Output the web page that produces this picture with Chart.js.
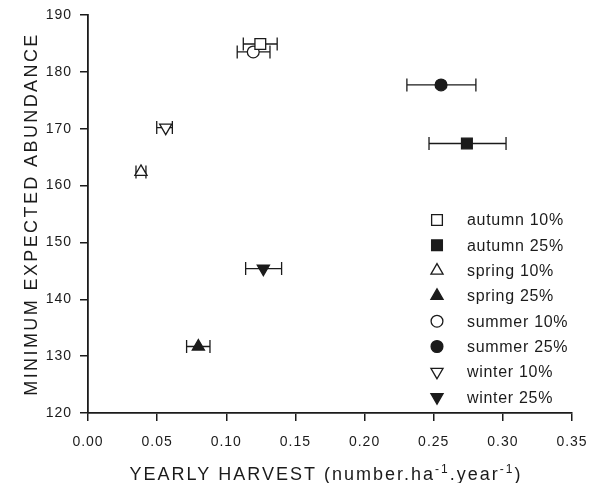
<!DOCTYPE html>
<html>
<head>
<meta charset="utf-8">
<script src="https://cdn.jsdelivr.net/npm/chart.js@4.4.1/dist/chart.umd.min.js"></script>
<style>
  html, body { margin: 0; padding: 0; background: #fff; }
  #wrap { width: 593px; height: 483px; }
</style>
</head>
<body>
<div id="wrap"><canvas id="harvestChart"></canvas></div>
<script>
// scenario labels and values
const scenarios = ['autumn 10%', 'autumn 25%', 'spring 10%', 'spring 25%',
                   'summer 10%', 'summer 25%', 'winter 10%', 'winter 25%'];
const harvest     = [0.1246, 0.2740, 0.0383, 0.0798, 0.1195, 0.2553, 0.0562, 0.1268];
const harvestLow  = [0.1123, 0.2466, 0.0347, 0.0713, 0.1079, 0.2306, 0.0497, 0.1140];
const harvestHigh = [0.1368, 0.3023, 0.0419, 0.0882, 0.1316, 0.2805, 0.0610, 0.1400];
const abundance   = [184.9, 167.4, 162.4, 131.7, 183.5, 177.7, 170.2, 145.4];

const xTicks = [0, 0.05, 0.10, 0.15, 0.20, 0.25, 0.30, 0.35];
const yTicks = [120, 130, 140, 150, 160, 170, 180, 190];

const ink = '#1b1b1b';
const fontFamily = '"Liberation Sans", Arial, sans-serif';

const markerStyle = ['rect', 'rect', 'triangle', 'triangle', 'circle', 'circle', 'triangle', 'triangle'];
const markerFilled = [false, true, false, true, false, true, false, true];
const markerRotation = [0, 0, 0, 0, 0, 0, 180, 180];
const markerRadius = { rect: 7.6, circle: 5.9, triangle: 7 };

const datasets = scenarios.map((name, i) => ({
  label: name,
  data: [{ x: harvest[i], y: abundance[i] }],
  pointStyle: markerStyle[i],
  pointRotation: markerRotation[i],
  pointRadius: markerRadius[markerStyle[i]],
  backgroundColor: markerFilled[i] ? ink : '#fff',
  borderColor: ink,
  borderWidth: 1.3
}));

// horizontal error bars, drawn under the markers
const errorBars = {
  id: 'errorBars',
  beforeDatasetsDraw(chart) {
    const { ctx, scales: { x, y } } = chart;
    ctx.save();
    ctx.strokeStyle = ink;
    ctx.lineWidth = 1.3;
    for (let i = 0; i < harvest.length; i++) {
      const py = y.getPixelForValue(abundance[i]);
      const x0 = x.getPixelForValue(harvestLow[i]);
      const x1 = x.getPixelForValue(harvestHigh[i]);
      ctx.beginPath();
      ctx.moveTo(x0, py); ctx.lineTo(x1, py);
      ctx.moveTo(x0, py - 6.5); ctx.lineTo(x0, py + 6.5);
      ctx.moveTo(x1, py - 6.5); ctx.lineTo(x1, py + 6.5);
      ctx.stroke();
    }
    ctx.restore();
  }
};

const spacing = {
  id: 'spacing',
  beforeDraw(chart) { chart.ctx.letterSpacing = '1px'; }
};

// titles (with superscripts) and the legend box inside the plot
const extras = {
  id: 'extras',
  afterDraw(chart) {
    const { ctx, chartArea } = chart;
    ctx.save();
    ctx.fillStyle = ink;

    // x title
    const parts = [
      { t: 'YEARLY HARVEST (number.ha', sup: false },
      { t: '-1', sup: true },
      { t: '.year', sup: false },
      { t: '-1', sup: true },
      { t: ')', sup: false }
    ];
    ctx.letterSpacing = '2px';
    ctx.textBaseline = 'alphabetic';
    ctx.textAlign = 'left';
    let total = 0;
    parts.forEach(p => {
      ctx.font = (p.sup ? '12px ' : '18px ') + fontFamily;
      p.w = ctx.measureText(p.t).width;
      total += p.w;
    });
    let cx = (chartArea.left + chartArea.right) / 2 - total / 2 - 4;
    parts.forEach(p => {
      ctx.font = (p.sup ? '12px ' : '18px ') + fontFamily;
      ctx.fillText(p.t, cx, p.sup ? 473 : 480);
      cx += p.w;
    });

    // y title
    ctx.save();
    ctx.font = '18px ' + fontFamily;
    ctx.letterSpacing = '2.4px';
    ctx.textAlign = 'center';
    ctx.translate(37, (chartArea.top + chartArea.bottom) / 2);
    ctx.rotate(-Math.PI / 2);
    ctx.fillText('MINIMUM EXPECTED ABUNDANCE', 0, 0);
    ctx.restore();

    // legend
    ctx.font = '16px ' + fontFamily;
    ctx.letterSpacing = '0.7px';
    ctx.textBaseline = 'middle';
    ctx.textAlign = 'left';
    ctx.lineWidth = 1.3;
    ctx.strokeStyle = ink;
    scenarios.forEach((name, i) => {
      const ly = 220 + i * 25.3;
      ctx.fillStyle = markerFilled[i] ? ink : '#fff';
      Chart.helpers.drawPoint(ctx, {
        pointStyle: markerStyle[i],
        rotation: markerRotation[i],
        radius: markerRadius[markerStyle[i]],
        borderWidth: 1.3
      }, 437, ly);
      ctx.fillStyle = ink;
      ctx.fillText(name, 467, ly + 1);
    });
    ctx.restore();
  }
};

new Chart(document.getElementById('harvestChart'), {
  type: 'scatter',
  data: { datasets },
  plugins: [spacing, errorBars, extras],
  options: {
    responsive: true,
    maintainAspectRatio: false,
    animation: false,
    events: [],
    layout: { padding: { top: 15, right: 21, left: 0, bottom: 0 } },
    plugins: { legend: { display: false }, tooltip: { enabled: false } },
    scales: {
      x: {
        type: 'linear',
        min: 0, max: 0.35,
        afterBuildTicks(scale) { scale.ticks = xTicks.map(v => ({ value: v })); },
        afterFit(scale) { scale.height = 70; scale.paddingLeft = 0; scale.paddingRight = 0; },
        grid: { drawOnChartArea: false, drawTicks: true, tickLength: 8, color: ink, lineWidth: 1.5 },
        border: { display: true, color: ink, width: 1.8 },
        ticks: {
          padding: 13,
          color: ink,
          font: { family: fontFamily, size: 14 },
          maxRotation: 0,
          callback: v => Number(v).toFixed(2)
        }
      },
      y: {
        type: 'linear',
        min: 120, max: 190,
        afterBuildTicks(scale) { scale.ticks = yTicks.map(v => ({ value: v })); },
        afterFit(scale) { scale.width = 88; scale.paddingTop = 0; scale.paddingBottom = 0; },
        grid: { drawOnChartArea: false, drawTicks: true, tickLength: 8, color: ink, lineWidth: 1.5 },
        border: { display: true, color: ink, width: 1.8 },
        ticks: {
          padding: 8,
          color: ink,
          font: { family: fontFamily, size: 14 },
          callback: v => String(v)
        }
      }
    }
  }
});
</script>
</body>
</html>
